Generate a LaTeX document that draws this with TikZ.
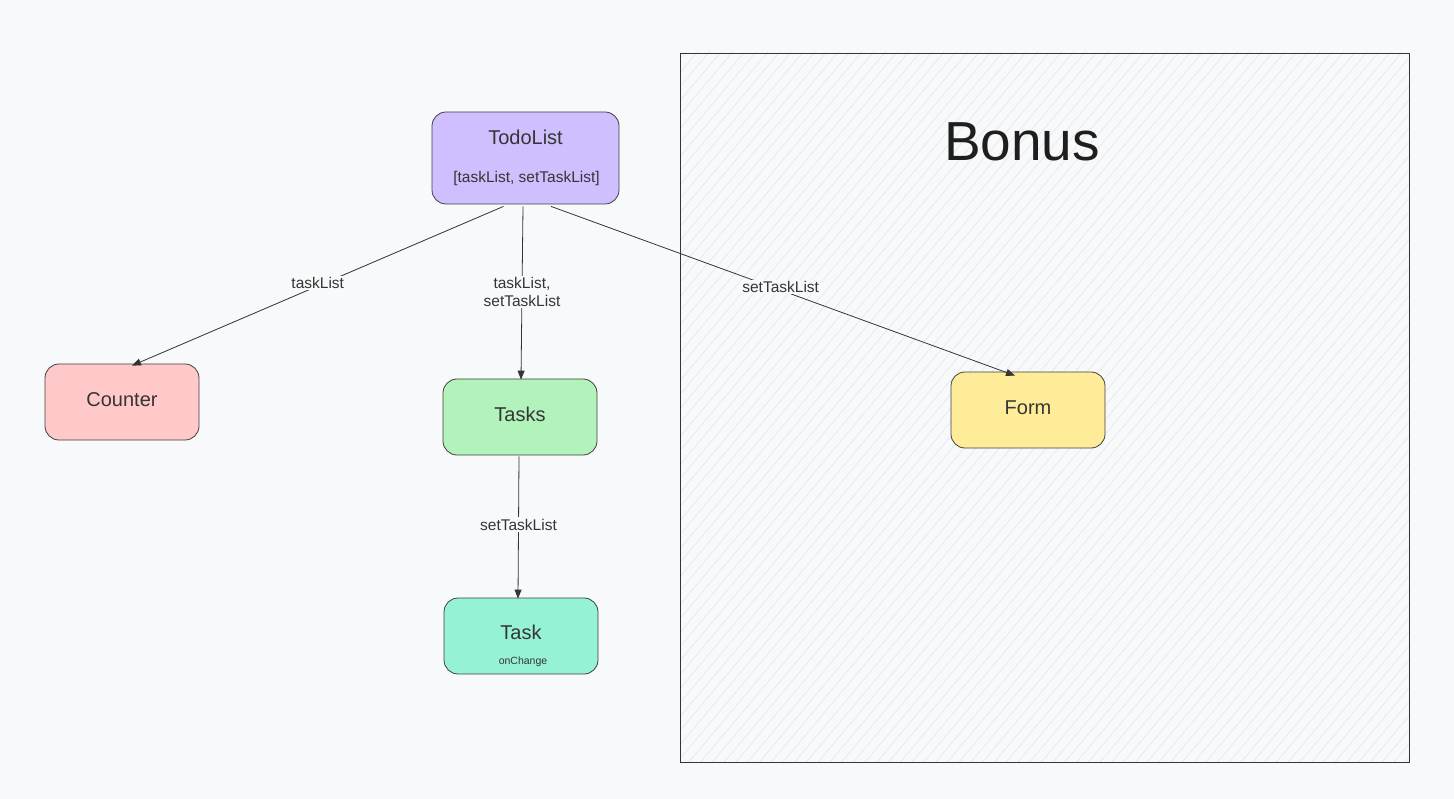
\documentclass[tikz,border=0pt]{standalone}
\usepackage{fontspec}
\setmainfont{Liberation Sans}
\usetikzlibrary{arrows.meta,calc,patterns.meta}
\definecolor{bg}{HTML}{F8F9FA}
\definecolor{ink}{HTML}{1E1E1E}
\definecolor{cTodo}{HTML}{D0BFFF}
\definecolor{cCounter}{HTML}{FFC9C9}
\definecolor{cTasks}{HTML}{B2F2BB}
\definecolor{cTask}{HTML}{96F2D7}
\definecolor{cForm}{HTML}{FFEC99}
\definecolor{hatch}{HTML}{E6E8EB}
\tikzset{
  comp/.style={draw=ink!85, line width=0.8pt, rounded corners=14pt, minimum width=154pt, minimum height=76pt, inner sep=0pt, text=ink!90, font=\fontsize{20}{22}\selectfont, align=center, text depth=5pt},
  conn/.style={draw=ink!90, line width=0.8pt, -{Triangle[length=9pt,width=7pt]}},
  lbl/.style={fill=bg, inner sep=1.5pt, text=ink!90, font=\fontsize{15.5}{17.5}\selectfont, align=center, yshift=3pt},
}
\begin{document}
\begin{tikzpicture}[x=1pt,y=-1pt]
\fill[bg] (0,0) rectangle (1454,799);
\useasboundingbox (0,0) rectangle (1454,799);
% Bonus box
\fill[bg] (680,53) rectangle (1409,762);
\fill[pattern={Lines[angle=50,distance=9pt,line width=0.7pt]}, pattern color=hatch] (680,53) rectangle (1409,762);
\draw[ink!90, line width=0.95pt] (680,53) rectangle (1409,762);
\node[text=ink, font=\fontsize{55}{58}\selectfont] (bonus) at (1022,142) {Bonus};
% nodes
\node[comp, fill=cTodo, minimum width=187pt, minimum height=92pt] (todo) at (525.5,158) {};
\node[text=ink!90, font=\fontsize{20}{22}\selectfont] (todot) at (525.5,137) {TodoList};
\node[text=ink!90, font=\fontsize{15.5}{18}\selectfont] (todos) at (526.5,178) {[taskList, setTaskList]};
\node[comp, fill=cCounter] (counter) at (122,402) {Counter};
\node[comp, fill=cTasks] (tasks) at (520,417) {Tasks};
\node[comp, fill=cTask] (task) at (521,636) {};
\node[text=ink!90, font=\fontsize{20}{22}\selectfont] (taskt) at (521,632) {Task};
\node[text=ink!90, font=\fontsize{10.5}{12}\selectfont] (tasks2) at (523,662) {onChange};
\node[comp, fill=cForm] (form) at (1028,410) {Form};
% connectors
\draw[conn] ([xshift=-22pt,yshift=-2pt]todo.south) -- ([xshift=10pt,yshift=-2pt]counter.north)
  node[lbl, pos=0.5] (l1) {taskList};
\draw[conn] ([xshift=-2.5pt,yshift=-2pt]todo.south) -- ([xshift=1pt,yshift=-1pt]tasks.north)
  node[lbl, pos=0.51] (l2) {taskList,\\setTaskList};
\draw[conn] ([xshift=25.5pt,yshift=-2pt]todo.south) -- ([xshift=-13pt,yshift=-4pt]form.north)
  node[lbl, pos=0.495] (l3) {setTaskList};
\draw[conn] ([xshift=-1pt,yshift=-1pt]tasks.south) -- ([xshift=-3pt,yshift=-1pt]task.north)
  node[lbl, pos=0.5] (l4) {setTaskList};
\end{tikzpicture}
\end{document}
